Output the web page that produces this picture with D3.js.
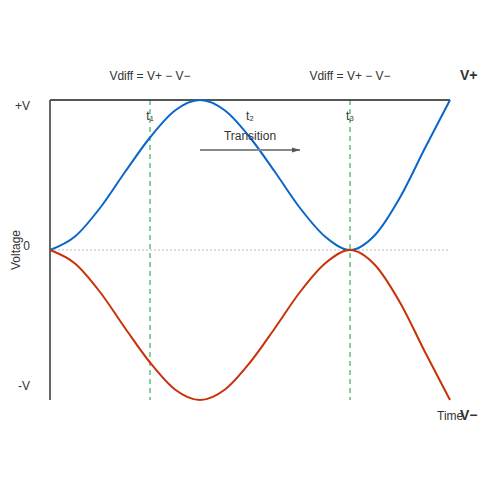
<!DOCTYPE html>
<html><head><meta charset="utf-8">
<script src="https://cdn.jsdelivr.net/npm/d3@7"></script>
<style>body{margin:0;background:#fff}text{font-family:"Liberation Sans",Arial,sans-serif}</style>
</head><body><div id="chart"></div>
<script>
const tiempo = d3.range(0, 17)  // pasos de 0.5 unidades
const vPositivo = [0, 0.09, 0.28, 0.52, 0.75, 0.93, 1, 0.93, 0.75, 0.52, 0.28, 0.09, 0, 0.1, 0.35, 0.68, 1]
const vNegativo = vPositivo.map(v => -v)
const marcas = [{t: 4, label: "t₁"}, {t: 8, label: "t₂"}, {t: 12, label: "t₃"}]
const lineasVerdes = [4, 12]
const etiquetasY = [{v: 1, label: "+V", dy: 10}, {v: 0, label: "0", dy: 0}, {v: -1, label: "-V", dy: -10}]

const svg = d3.select("#chart").append("svg").attr("width", 500).attr("height", 500)
const x = d3.scaleLinear().domain([0, 16]).range([50, 450])
const y = d3.scaleLinear().domain([-1, 1]).range([400, 100])

svg.append("defs").append("marker").attr("id", "flecha").attr("viewBox", "0 0 10 10")
    .attr("refX", 10).attr("refY", 5).attr("markerWidth", 4).attr("markerHeight", 4).attr("orient", "auto")
    .append("path").attr("d", "M0,2L10,5L0,8z").attr("fill", "#555")

svg.append("line").attr("x1", 50).attr("x2", 450).attr("y1", y(0)).attr("y2", y(0))
    .attr("stroke", "#bbb").attr("stroke-dasharray", "2,2")
svg.selectAll(".verde").data(lineasVerdes).enter().append("line")
    .attr("x1", d => x(d)).attr("x2", d => x(d)).attr("y1", y(1)).attr("y2", y(-1))
    .attr("stroke", "#5fbf80").attr("stroke-width", 1.5).attr("stroke-dasharray", "5,4")

svg.append("line").attr("x1", 50).attr("x2", 50).attr("y1", 100).attr("y2", 400).attr("stroke", "#333").attr("stroke-width", 1.5)
svg.append("line").attr("x1", 50).attr("x2", 450).attr("y1", 100).attr("y2", 100).attr("stroke", "#555").attr("stroke-width", 2)

const linea = d3.line().x((d, i) => x(tiempo[i])).y(d => y(d)).curve(d3.curveMonotoneX)
svg.append("path").attr("d", linea(vPositivo)).attr("fill", "none").attr("stroke", "#0a66c8").attr("stroke-width", 2)
svg.append("path").attr("d", linea(vNegativo)).attr("fill", "none").attr("stroke", "#c8320a").attr("stroke-width", 2)

svg.selectAll(".ey").data(etiquetasY).enter().append("text")
    .attr("x", 30).attr("y", d => y(d.v) + d.dy).attr("text-anchor", "end")
    .attr("font-size", 12).attr("fill", "#333").text(d => d.label)
svg.selectAll(".tm").data(marcas).enter().append("text")
    .attr("x", d => x(d.t)).attr("y", 120).attr("text-anchor", "middle")
    .attr("font-size", 12).attr("fill", "#333").text(d => d.label)

svg.append("text").attr("transform", "translate(20,250) rotate(-90)").attr("text-anchor", "middle")
    .attr("font-size", 12).attr("fill", "#333").text("Voltage")
svg.append("text").attr("x", 150).attr("y", 80).attr("text-anchor", "middle").attr("font-size", 12).attr("fill", "#333").text("Vdiff = V+ − V−")
svg.append("text").attr("x", 350).attr("y", 80).attr("text-anchor", "middle").attr("font-size", 12).attr("fill", "#333").text("Vdiff = V+ − V−")
svg.append("text").attr("x", 460).attr("y", 80).attr("font-size", 14).attr("font-weight", "bold").attr("fill", "#333").text("V+")
svg.append("text").attr("x", 460).attr("y", 420).attr("font-size", 14).attr("font-weight", "bold").attr("fill", "#333").text("V−")
svg.append("text").attr("x", 437).attr("y", 420).attr("font-size", 12).attr("fill", "#333").text("Time")
svg.append("text").attr("x", 250).attr("y", 140).attr("text-anchor", "middle").attr("font-size", 12).attr("fill", "#333").text("Transition")
svg.append("line").attr("x1", 200).attr("x2", 300).attr("y1", 150).attr("y2", 150)
    .attr("stroke", "#888").attr("stroke-width", 2).attr("marker-end", "url(#flecha)")
</script></body></html>
